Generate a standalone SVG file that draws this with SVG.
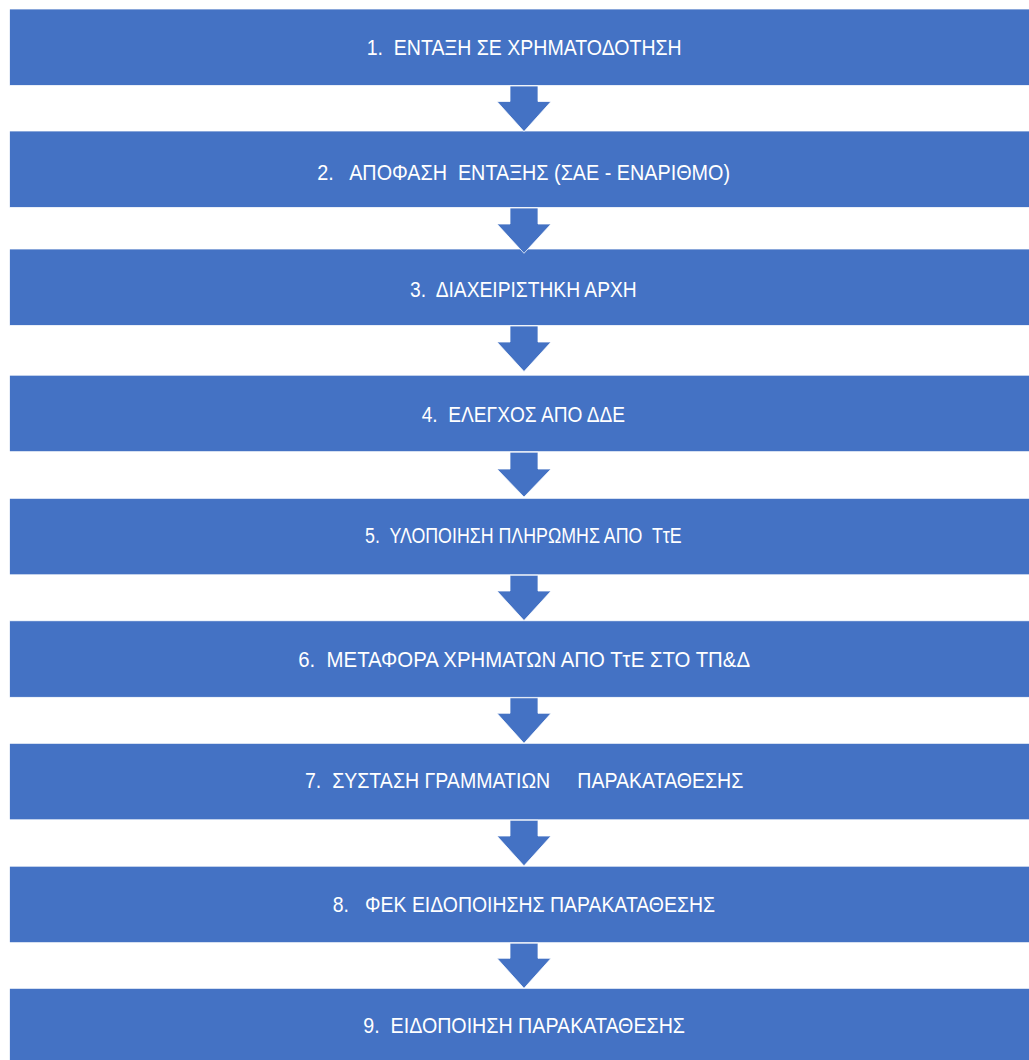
<svg xmlns="http://www.w3.org/2000/svg" width="1029" height="1060" viewBox="0 0 1029 1060">
<style>
.box{fill:#4472C4;stroke:#ffffff;stroke-width:0.75}
.lbl{fill:#ffffff;font-family:"Liberation Sans",Arial,sans-serif;font-size:22px;white-space:pre}
.arr{fill:#4472C4;stroke:#ffffff;stroke-width:0.75}
</style>
<rect width="1029" height="1060" fill="#ffffff"/>
<g id="node1"><rect class="box" x="9.5" y="9" width="1030" height="76.5"/><text class="lbl" x="366.7" y="55.3" textLength="315" lengthAdjust="spacingAndGlyphs">1.  ΕΝΤΑΞΗ ΣΕ ΧΡΗΜΑΤΟΔΟΤΗΣΗ</text></g>
<g id="node2"><rect class="box" x="9.5" y="131" width="1030" height="76.5"/><text class="lbl" x="317.3" y="180" textLength="412.7" lengthAdjust="spacingAndGlyphs">2.   ΑΠΟΦΑΣΗ  ΕΝΤΑΞΗΣ (ΣΑΕ - ΕΝΑΡΙΘΜΟ)</text></g>
<g id="node3"><rect class="box" x="9.5" y="249" width="1030" height="76.5"/><text class="lbl" x="410" y="296.7" textLength="226.7" lengthAdjust="spacingAndGlyphs">3.  ΔΙΑΧΕΙΡΙΣΤΗΚΗ ΑΡΧΗ</text></g>
<g id="node4"><rect class="box" x="9.5" y="375.2" width="1030" height="76.5"/><text class="lbl" x="421.7" y="422.3" textLength="203.3" lengthAdjust="spacingAndGlyphs">4.  ΕΛΕΓΧΟΣ ΑΠΟ ΔΔΕ</text></g>
<g id="node5"><rect class="box" x="9.5" y="498.3" width="1030" height="76.5"/><text class="lbl" x="365" y="543.3" textLength="316.7" lengthAdjust="spacingAndGlyphs">5.  ΥΛΟΠΟΙΗΣΗ ΠΛΗΡΩΜΗΣ ΑΠΟ  ΤτΕ</text></g>
<g id="node6"><rect class="box" x="9.5" y="620.8" width="1030" height="76.5"/><text class="lbl" x="298.3" y="666.7" textLength="451.7" lengthAdjust="spacingAndGlyphs">6.  ΜΕΤΑΦΟΡΑ ΧΡΗΜΑΤΩΝ ΑΠΟ ΤτΕ ΣΤΟ ΤΠ&amp;Δ</text></g>
<g id="node7"><rect class="box" x="9.5" y="743.3" width="1030" height="76.5"/><text class="lbl" x="305" y="788.3" textLength="438.3" lengthAdjust="spacingAndGlyphs">7.  ΣΥΣΤΑΣΗ ΓΡΑΜΜΑΤΙΩΝ     ΠΑΡΑΚΑΤΑΘΕΣΗΣ</text></g>
<g id="node8"><rect class="box" x="9.5" y="866.2" width="1030" height="76.5"/><text class="lbl" x="332.7" y="911.7" textLength="382.3" lengthAdjust="spacingAndGlyphs">8.   ΦΕΚ ΕΙΔΟΠΟΙΗΣΗΣ ΠΑΡΑΚΑΤΑΘΕΣΗΣ</text></g>
<g id="node9"><rect class="box" x="9.5" y="988.3" width="1030" height="80"/><text class="lbl" x="363.3" y="1033.3" textLength="321.7" lengthAdjust="spacingAndGlyphs">9.  ΕΙΔΟΠΟΙΗΣΗ ΠΑΡΑΚΑΤΑΘΕΣΗΣ</text></g>
<g id="connectors">
<polygon class="arr" points="510,86 538,86 538,101.5 551,101.5 524,131.5 497,101.5 510,101.5"/>
<polygon class="arr" points="510,208 538,208 538,224 551,224 524,253.3 497,224 510,224"/>
<polygon class="arr" points="510,326 538,326 538,342 551,342 524,371.5 497,342 510,342"/>
<polygon class="arr" points="510,452.2 538,452.2 538,469 551,469 524,497 497,469 510,469"/>
<polygon class="arr" points="510,575.3 538,575.3 538,591 551,591 524,620.5 497,591 510,591"/>
<polygon class="arr" points="510,697.8 538,697.8 538,713.3 551,713.3 524,743.3 497,713.3 510,713.3"/>
<polygon class="arr" points="510,820.3 538,820.3 538,836 551,836 524,865.8 497,836 510,836"/>
<polygon class="arr" points="510,943.2 538,943.2 538,958.3 551,958.3 524,988.3 497,958.3 510,958.3"/>
</g>
</svg>
